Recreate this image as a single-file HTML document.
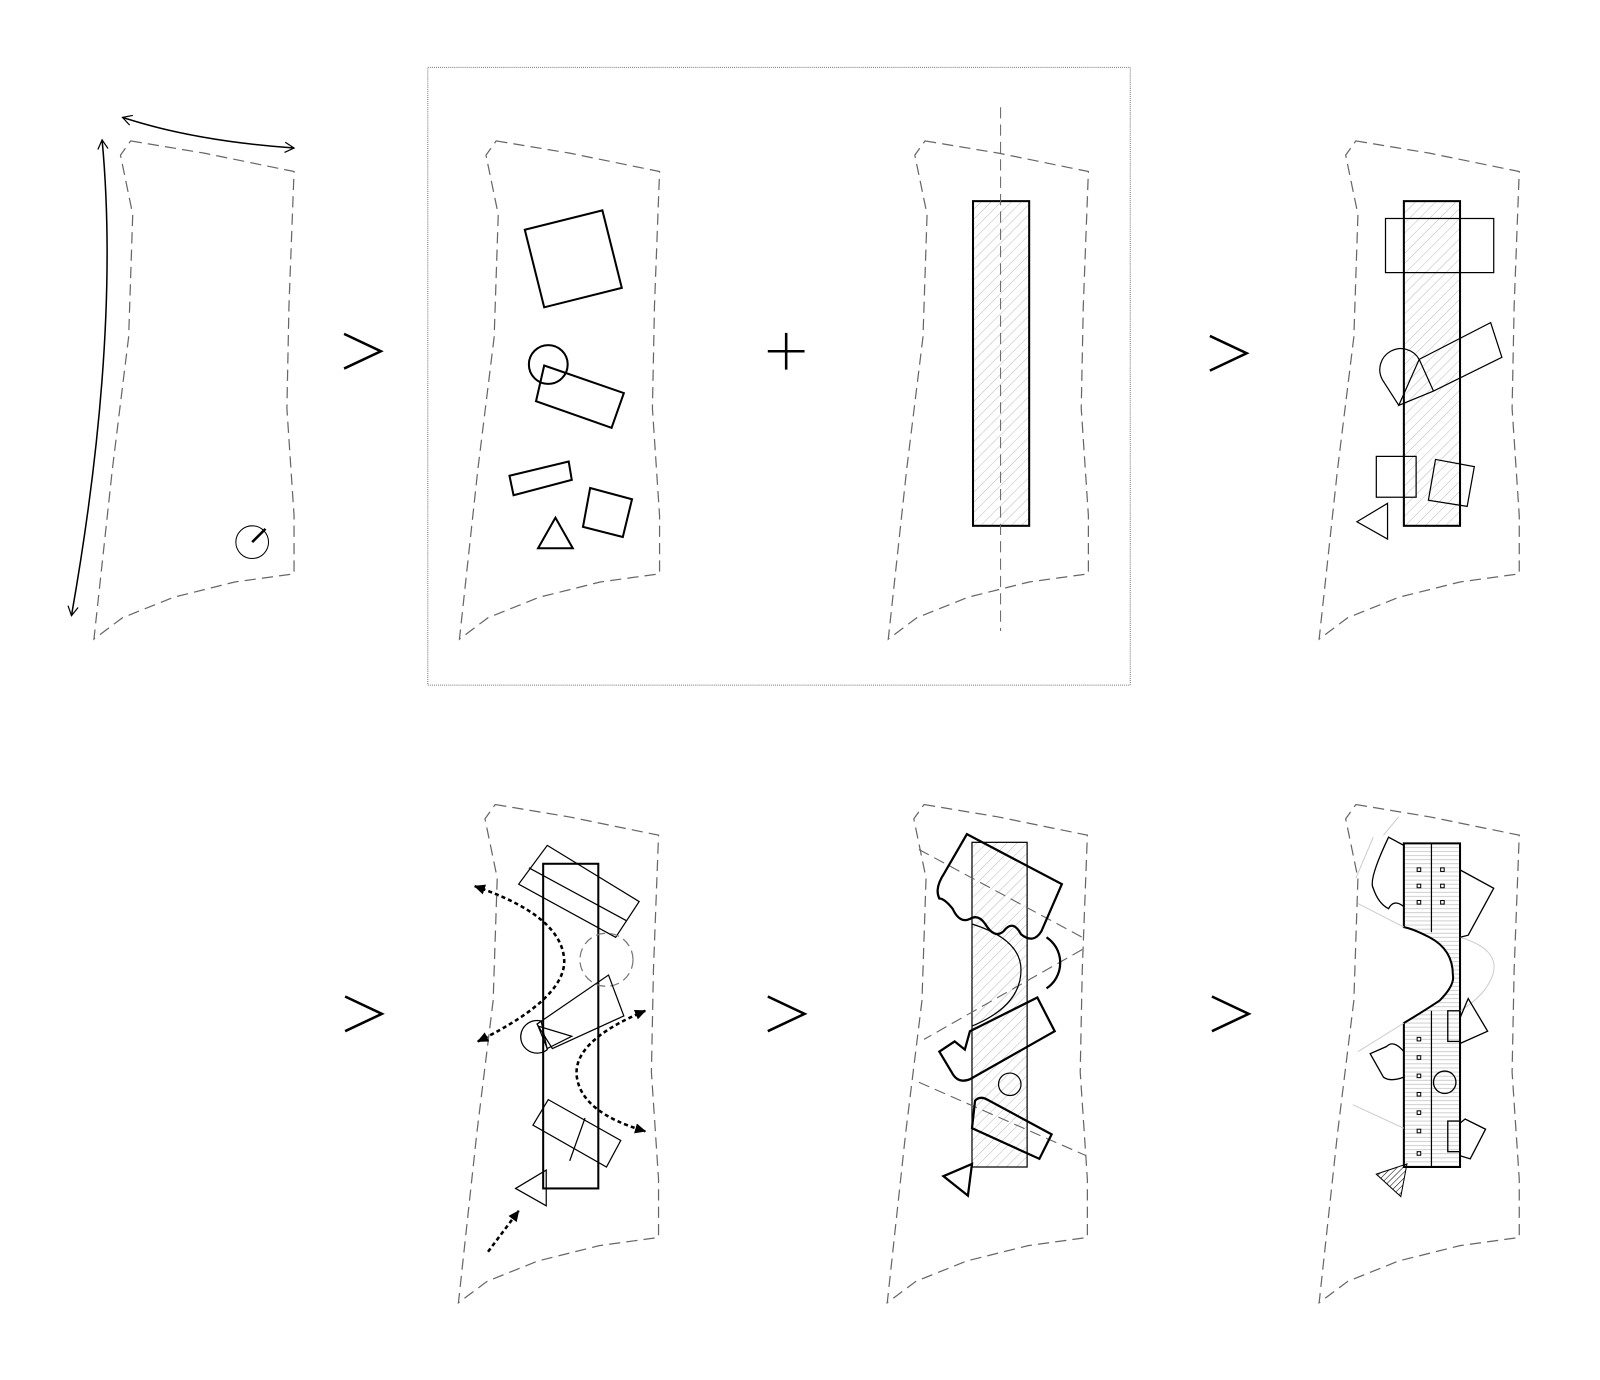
<!DOCTYPE html>
<html><head><meta charset="utf-8"><style>html,body{margin:0;padding:0;background:#fff}svg{display:block}</style></head>
<body>
<svg width="1600" height="1380" viewBox="0 0 1600 1380" xmlns="http://www.w3.org/2000/svg">
<defs>
<pattern id="hd" width="7" height="7" patternUnits="userSpaceOnUse" patternTransform="rotate(45)">
<line x1="0" y1="0" x2="0" y2="7" stroke="#aaa" stroke-width="0.8"/></pattern>
<pattern id="hh" width="6" height="4" patternUnits="userSpaceOnUse">
<line x1="0" y1="2" x2="6" y2="2" stroke="#bbb" stroke-width="0.7"/></pattern>
<pattern id="hk" width="4" height="4" patternUnits="userSpaceOnUse" patternTransform="rotate(45)">
<line x1="0" y1="0" x2="0" y2="4" stroke="#000" stroke-width="1"/></pattern>
<path id="site" d="M128,138 L200,150 L288,168 L283,300 L281,400 L288,505 L288,562 L230,570 L170,585 L120,605 L92,626 L110,460 L126,330 L130,210 L118,152 Z" fill="none" stroke="#666" stroke-width="1.2" stroke-dasharray="11 6"/>
<marker id="oa" markerWidth="12" markerHeight="12" refX="10" refY="6" orient="auto-start-reverse" markerUnits="userSpaceOnUse"><path d="M1,1 L10,6 L1,11" fill="none" stroke="#000" stroke-width="1.2"/></marker>
<marker id="fa" markerWidth="12" markerHeight="12" refX="10" refY="6" orient="auto-start-reverse" markerUnits="userSpaceOnUse"><path d="M0,1 L11,6 L0,11 Z" fill="#000"/></marker>
</defs>
<g transform="scale(1.021)">
<g fill="none" stroke="#000">
<!-- row 1 -->
<use href="#site"/>
<path d="M100,137 Q118,330 70,603" stroke-width="1.5" marker-start="url(#oa)" marker-end="url(#oa)"/>
<path d="M120,115 Q190,138 288,145" stroke-width="1.5" marker-start="url(#oa)" marker-end="url(#oa)"/>
<circle cx="247" cy="531" r="16" stroke-width="1"/>
<line x1="247" y1="531" x2="260" y2="518" stroke-width="2.5"/>
<path d="M337,327 L373,344 L337,361" stroke-width="2.5"/>
<rect x="419" y="66" width="688" height="605" stroke="#777" stroke-width="1" stroke-dasharray="1 1"/>
<use href="#site" transform="translate(358,0)"/>
<g stroke-width="2">
<polygon points="514,225 590,206 609,282 533,301"/>
<circle cx="537" cy="357" r="19"/>
<polygon points="533,358 611,385 599,419 525,393"/>
<polygon points="499,466 557,452 560,470 503,485"/>
<polygon points="578,478 619,489 610,526 571,516"/>
<polygon points="527,537 544,507 561,537"/>
</g>
<path d="M752,344 H788 M770,326 V362" stroke-width="2.5"/>
<use href="#site" transform="translate(778,0)"/>
<rect x="953" y="197" width="55" height="318" fill="url(#hd)" stroke-width="2"/>
<line x1="980" y1="105" x2="980" y2="618" stroke="#666" stroke-dasharray="11 6"/>
<path d="M1185,329 L1221,346 L1185,363" stroke-width="2.5"/>
<use href="#site" transform="translate(1200,0)"/>
<rect x="1375" y="197" width="55" height="318" fill="url(#hd)" stroke-width="2"/>
<g stroke-width="1.2">
<rect x="1357" y="214" width="106" height="53"/>
<polygon points="1390,352 1460,316 1471,350 1404,383 1370,397"/>
<path d="M1370,397 L1354,372 A20,20 0 0 1 1390,352 L1404,383"/>
<rect x="1348" y="447" width="39" height="40"/>
<polygon points="1406,450 1444,457 1437,496 1399,490"/>
<polygon points="1329,511 1359,493 1359,528"/>
</g>
<!-- row 2 -->
<path d="M338,976 L374,993 L338,1010" stroke-width="2.5"/>
<path d="M752,976 L788,993 L752,1010" stroke-width="2.5"/>
<path d="M1187,976 L1223,993 L1187,1010" stroke-width="2.5"/>
<use href="#site" transform="translate(357,650)"/>
<rect x="532" y="846" width="54" height="318" stroke-width="2"/>
<g stroke-width="1.2">
<polygon points="536,828 626,883 603,918 508,866"/>
<line x1="518" y1="850" x2="614" y2="902"/>
<circle cx="594" cy="940" r="26" stroke="#777" stroke-dasharray="9 5"/>
<polygon points="526,1003 596,955 611,995 541,1027"/>
<path d="M530,1000 A16,16 0 1 0 536,1028 Z"/>
<polygon points="527,1005 560,1015 536,1027"/>
<polygon points="537,1077 608,1117 594,1143 522,1102"/>
<line x1="573" y1="1095" x2="558" y2="1137"/>
<polygon points="505,1164 535,1146 535,1181"/>
</g>
<g stroke-width="2.5" stroke-dasharray="4 3">
<path d="M465,868 Q545,895 552,935 Q560,975 468,1020" marker-start="url(#fa)" marker-end="url(#fa)"/>
<path d="M632,990 Q560,1020 565,1055 Q570,1090 632,1108" marker-start="url(#fa)" marker-end="url(#fa)"/>
<path d="M478,1226 L508,1186" marker-end="url(#fa)"/>
</g>
<use href="#site" transform="translate(777,650)"/>
<rect x="952" y="825" width="54" height="318" fill="url(#hd)" stroke-width="1.2"/>
<g stroke="#666" stroke-width="1.1" stroke-dasharray="11 6">
<line x1="900" y1="832" x2="1060" y2="918"/>
<line x1="1060" y1="930" x2="905" y2="1018"/>
<line x1="900" y1="1060" x2="1064" y2="1132"/>
</g>
<g stroke-width="2.2">
<path d="M947,817 L1040,866 L1020,912 Q1012,925 1000,915 Q992,900 983,912 Q974,920 965,905 Q958,895 950,900 Q940,905 933,890 Q925,880 920,880 Q915,870 925,855 Z"/>
<path d="M1025,918 A30,30 0 0 1 1025,968"/>
<path d="M950,1010 L1016,977 L1033,1010 L950,1057 Q938,1062 932,1050 L920,1030 L935,1020 L945,1028 Z"/>
<circle cx="989" cy="1062" r="11" stroke-width="1.2"/>
<path d="M955,1078 Q960,1073 967,1077 L1030,1111 L1018,1135 L952,1105 Z"/>
<polygon points="924,1152 952,1140 948,1171"/>
</g>
<path d="M952,905 Q1000,920 1000,950 Q1000,985 952,1005" stroke-width="1.2"/>
<use href="#site" transform="translate(1200,650)"/>
<path d="M1375,826 H1430 V1143 H1375 V1002 Q1395,990 1410,980 Q1425,965 1423,955 Q1423,930 1400,918 Q1385,910 1375,908 Z" fill="url(#hh)" stroke-width="2"/>
<line x1="1402" y1="826" x2="1402" y2="913" stroke-width="1.2"/>
<line x1="1402" y1="990" x2="1402" y2="1143" stroke-width="1.2"/>
<g stroke="#ccc" stroke-width="1">
<path d="M1328,860 L1345,820 M1355,818 L1370,800"/>
<path d="M1330,885 L1375,908 M1330,1030 L1375,1002 M1325,1082 L1375,1105"/>
<path d="M1430,918 Q1470,930 1462,955 Q1455,975 1430,990"/>
</g>
<g stroke-width="1.3">
<path d="M1375,888 Q1365,880 1360,890 Q1350,885 1345,870 Q1340,862 1360,820 L1375,828"/>
<path d="M1430,852 L1463,870 L1438,916 L1430,918"/>
<path d="M1430,997 L1438,978 L1457,1010 L1430,1022"/>
<path d="M1375,1030 Q1365,1018 1358,1025 L1342,1032 L1355,1055 Q1362,1060 1375,1055"/>
<path d="M1430,1100 L1435,1096 L1455,1106 L1440,1135 L1430,1132"/>
<rect x="1418" y="990" width="12" height="30"/>
<rect x="1418" y="1098" width="12" height="30"/>
<circle cx="1415" cy="1060" r="11"/>
</g>
<polygon points="1348,1150 1378,1140 1372,1172" fill="url(#hk)" stroke-width="1"/>
<g stroke-width="1" fill="#fff">
<rect x="1388" y="850" width="3.5" height="3.5"/><rect x="1388" y="866" width="3.5" height="3.5"/><rect x="1388" y="882" width="3.5" height="3.5"/>
<rect x="1411" y="850" width="3.5" height="3.5"/><rect x="1411" y="866" width="3.5" height="3.5"/><rect x="1411" y="882" width="3.5" height="3.5"/>
<rect x="1388" y="1016" width="3.5" height="3.5"/><rect x="1388" y="1034" width="3.5" height="3.5"/><rect x="1388" y="1052" width="3.5" height="3.5"/>
<rect x="1388" y="1070" width="3.5" height="3.5"/><rect x="1388" y="1088" width="3.5" height="3.5"/><rect x="1388" y="1106" width="3.5" height="3.5"/><rect x="1388" y="1128" width="3.5" height="3.5"/>
</g>
</g>
</g>
</svg>
</body></html>
